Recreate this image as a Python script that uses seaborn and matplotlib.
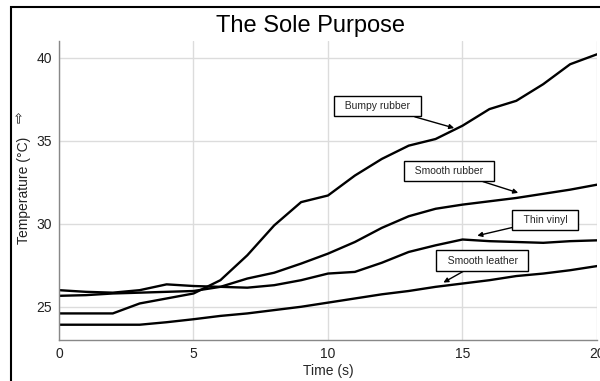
import numpy as np
import pandas as pd
import matplotlib
matplotlib.use("Agg")
import matplotlib.pyplot as plt
from matplotlib.patches import Rectangle
from matplotlib.ticker import MultipleLocator
import seaborn as sns

# data (temperature every second)
time_s = list(range(0, 21))
bumpy_rubber = [24.6, 24.6, 24.6, 25.2, 25.5, 25.8, 26.6, 28.1, 29.9, 31.3, 31.7,
                32.9, 33.9, 34.7, 35.1, 35.9, 36.9, 37.4, 38.4, 39.6, 40.2]
smooth_rubber = [25.66, 25.7, 25.8, 25.85, 25.9, 25.95, 26.2, 26.7, 27.05, 27.6, 28.2,
                 28.9, 29.75, 30.45, 30.9, 31.15, 31.35, 31.55, 31.8, 32.05, 32.35]
thin_vinyl = [26.0, 25.9, 25.85, 26.0, 26.35, 26.25, 26.2, 26.15, 26.3, 26.6, 27.0,
              27.1, 27.65, 28.3, 28.7, 29.05, 28.95, 28.9, 28.85, 28.95, 29.0]
smooth_leather = [23.92, 23.92, 23.92, 23.92, 24.07, 24.25, 24.45, 24.6, 24.8, 25.0, 25.25,
                  25.5, 25.75, 25.95, 26.2, 26.4, 26.6, 26.85, 27.0, 27.2, 27.45]

series = {
    "Bumpy rubber": bumpy_rubber,
    "Smooth rubber": smooth_rubber,
    "Thin vinyl": thin_vinyl,
    "Smooth leather": smooth_leather,
}

df = pd.concat([pd.DataFrame({"Time": time_s, "Temp": v, "Sole": k}) for k, v in series.items()])

sns.set_style("white")
plt.rcParams['font.family'] = ['Liberation Sans', 'DejaVu Sans']

fig = plt.figure(figsize=(6, 3.81), dpi=100)
ax = fig.add_axes([59 / 600, 1 - 340 / 381, (597 - 59) / 600, (340 - 41) / 381])

sns.lineplot(data=df, x="Time", y="Temp", units="Sole", estimator=None,
             color="black", linewidth=1.7, ax=ax, legend=False)

ax.set_xlim(0, 20)
ax.set_ylim(23, 41)
ax.xaxis.set_major_locator(MultipleLocator(5))
ax.xaxis.set_minor_locator(MultipleLocator(1))
ax.yaxis.set_major_locator(MultipleLocator(5))
ax.yaxis.set_minor_locator(MultipleLocator(1))
ax.grid(True, which="major", color="#dcdcdc", linewidth=1)
ax.set_axisbelow(True)

for s in ["top", "right"]:
    ax.spines[s].set_visible(False)
for s in ["left", "bottom"]:
    ax.spines[s].set_color("#888888")
    ax.spines[s].set_linewidth(1)

ax.tick_params(axis="both", which="major", direction="inout", length=6, width=1,
               color="#888888", labelsize=10, labelcolor="#222222", pad=2)
ax.tick_params(axis="both", which="minor", direction="inout", length=4, width=1, color="#888888")

ax.set_xlabel("Time (s)", fontsize=10, labelpad=2)
ax.set_ylabel("")
fig.text(24 / 600, 1 - 190 / 381, "Temperature (°C)", rotation=90, fontsize=10,
         ha="center", va="center", color="#222222")
fig.text(20 / 600, 1 - 117 / 381, "⇨", rotation=90, fontsize=10,
         ha="center", va="center", color="#222222", family=['DejaVu Sans'])

fig.text(311 / 600, 1 - 26 / 381, "The Sole Purpose", fontsize=17,
         ha="center", va="center", color="black")

# labels with arrows
labels = [
    ("Bumpy rubber", (11.83, 37.08), (14.69, 35.76)),
    ("Smooth rubber", (14.51, 33.18), (17.07, 31.86)),
    ("Thin vinyl", (18.08, 30.24), (15.55, 29.28)),
    ("Smooth leather", (15.74, 27.78), (14.29, 26.46)),
]
for txt, pos, tip in labels:
    ax.annotate("  " + txt + "  ", xy=tip, xytext=pos, fontsize=7.5, ha="center", va="center",
                bbox=dict(boxstyle="square,pad=0.5", fc="white", ec="black", lw=1),
                arrowprops=dict(arrowstyle="-|>", color="black", lw=1, mutation_scale=7,
                                shrinkA=0, shrinkB=0))

# outer frame
fig.patches.append(Rectangle((11 / 600, -0.1), 1.1, 1 - 7 / 381 + 0.1, transform=fig.transFigure,
                             fill=False, ec="black", lw=1.5))

fig.savefig("out.png", dpi=100)
